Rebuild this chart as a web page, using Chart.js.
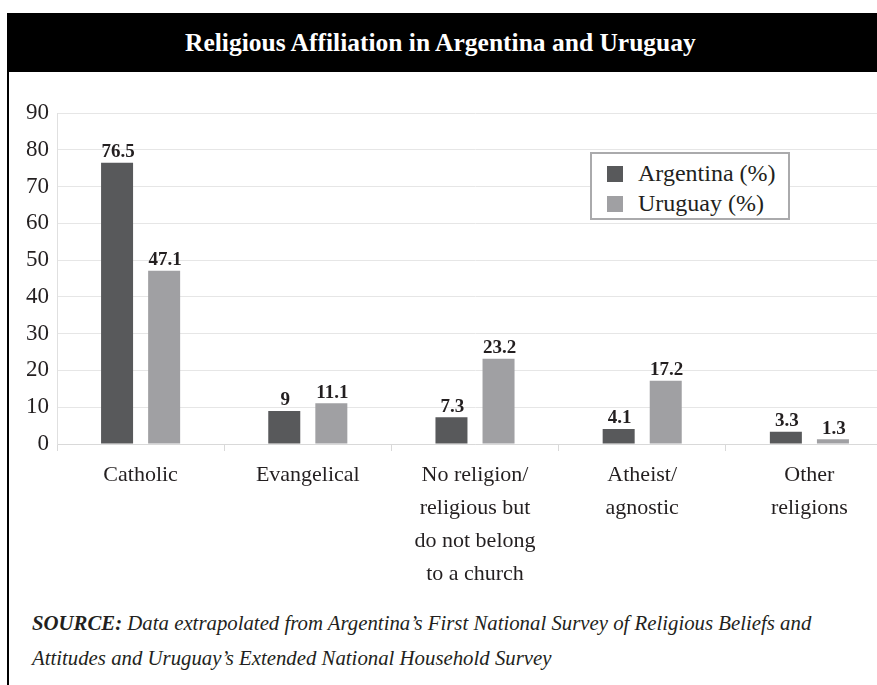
<!DOCTYPE html>
<html>
<head>
<meta charset="utf-8">
<script src="https://cdn.jsdelivr.net/npm/chart.js@4.4.1/dist/chart.umd.min.js"></script>
<style>
  html, body { margin:0; padding:0; background:#fff; overflow:hidden; width:877px; height:685px; }
  #frame { position:absolute; left:7px; top:13px; width:920px; height:700px; border-left:2px solid #000; }
  #title { position:absolute; left:7px; top:13px; width:920px; height:59px; background:#000; color:#fff;
    font-family:"Times New Roman","Liberation Serif","DejaVu Serif","Noto Serif",serif; font-weight:bold; font-size:25.5px; line-height:59px; }
  #title span { position:absolute; left:178px; white-space:nowrap; }
  #wrap { position:absolute; left:8px; top:74px; width:900px; height:520px; }
  #legend { position:absolute; left:590px; top:152px; width:196px; height:64px; border:2px solid #aaaaac; background:#fff;
    font-family:"Times New Roman","Liberation Serif","DejaVu Serif","Noto Serif",serif; font-size:24px; color:#231f20; }
  .li { position:absolute; left:15px; height:30px; line-height:30px; white-space:nowrap; }
  .sw { display:inline-block; width:16px; height:16px; margin-right:15px; vertical-align:-1px; }
  #source { position:absolute; left:32px; top:605px; font-family:"Times New Roman","Liberation Serif","DejaVu Serif","Noto Serif",serif; font-style:italic;
    font-size:20.8px; line-height:35px; color:#231f20; }
</style>
</head>
<body>
<div id="frame"></div>
<div id="title"><span>Religious Affiliation in Argentina and Uruguay</span></div>
<div id="wrap"><canvas id="c" width="900" height="520"></canvas></div>
<div id="legend"></div>
<div id="source"><b>SOURCE:</b> Data extrapolated from Argentina’s First National Survey of Religious Beliefs and<br>Attitudes and Uruguay’s Extended National Household Survey</div>
<script>
const categories = [
  ["Catholic"],
  ["Evangelical"],
  ["No religion/", "religious but", "do not belong", "to a church"],
  ["Atheist/", "agnostic"],
  ["Other", "religions"]
];
const argentina = [76.5, 9, 7.3, 4.1, 3.3];
const uruguay = [47.1, 11.1, 23.2, 17.2, 1.3];
const seriesNames = ["Argentina (%)", "Uruguay (%)"];
const yTicks = [0, 10, 20, 30, 40, 50, 60, 70, 80, 90];

const colors = ["#58595b", "#a0a0a3"];
const serif = '"Times New Roman", "Liberation Serif", "DejaVu Serif", "Noto Serif", serif';

const dataLabels = {
  id: 'dataLabels',
  afterDatasetsDraw(chart) {
    const ctx = chart.ctx;
    ctx.save();
    ctx.font = 'bold 19px ' + serif;
    ctx.fillStyle = '#231f20';
    ctx.textAlign = 'center';
    ctx.textBaseline = 'bottom';
    chart.data.datasets.forEach((ds, i) => {
      chart.getDatasetMeta(i).data.forEach((el, j) => {
        ctx.fillText(String(ds.data[j]), el.x + 1, el.y - 1);
      });
    });
    ctx.restore();
  }
};

const chart = new Chart(document.getElementById('c'), {
  type: 'bar',
  data: {
    labels: categories,
    datasets: [
      { label: seriesNames[0], data: argentina, backgroundColor: colors[0] },
      { label: seriesNames[1], data: uruguay, backgroundColor: colors[1] }
    ]
  },
  options: {
    responsive: false,
    animation: false,
    devicePixelRatio: 1,
    layout: { padding: { top: 39, right: 15, left: 0, bottom: 0 } },
    datasets: { bar: { categoryPercentage: 0.563, barPercentage: 0.68 } },
    plugins: { legend: { display: false }, tooltip: { enabled: false } },
    scales: {
      x: {
        grid: { display: true, drawOnChartArea: false, offset: true, color: '#d9d9d9', tickLength: 7, tickWidth: 1 },
        border: { color: '#d9d9d9', width: 1 },
        ticks: { font: { family: serif, size: 22, lineHeight: 1.5 }, color: '#231f20', maxRotation: 0, autoSkip: false, padding: 8 },
        afterFit(s) { s.height = 520 - 370; }
      },
      y: {
        min: 0, max: 90,
        afterBuildTicks(s) { s.ticks = yTicks.map(v => ({ value: v })); },
        grid: { color: '#e6e6e6', drawTicks: false, lineWidth: 1 },
        border: { color: '#e0e0e0', width: 1 },
        ticks: { font: { family: serif, size: 23 }, color: '#231f20', padding: 8 },
        afterFit(s) { s.width = 49; }
      }
    }
  },
  plugins: [dataLabels]
});

const lg = document.getElementById('legend');
chart.data.datasets.forEach((ds, i) => {
  const d = document.createElement('div');
  d.className = 'li';
  d.style.top = (4 + i * 30) + 'px';
  d.innerHTML = '<span class="sw" style="background:' + ds.backgroundColor + '"></span>' + ds.label;
  lg.appendChild(d);
});
</script>
</body>
</html>
